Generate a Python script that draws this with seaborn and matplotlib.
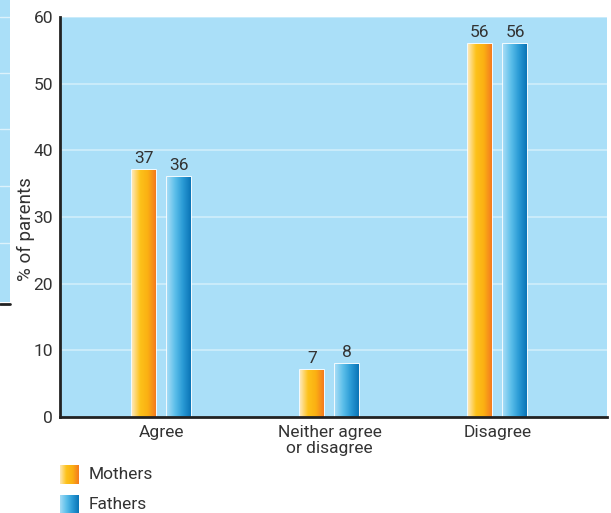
import numpy as np
import pandas as pd
import matplotlib
matplotlib.use("Agg")
import matplotlib.pyplot as plt
import seaborn as sns
from matplotlib.colors import LinearSegmentedColormap

categories = ["Agree", "Neither agree\nor disagree", "Disagree"]
groups = ["Mothers", "Fathers"]
mothers = [37, 7, 56]
fathers = [36, 8, 56]
yticks = [0, 10, 20, 30, 40, 50, 60]

df = pd.DataFrame({
    "category": categories * 2,
    "group": [groups[0]] * 3 + [groups[1]] * 3,
    "value": mothers + fathers,
})

sns.set_theme(style="white")
plt.rcParams['font.family'] = ['Roboto', 'DejaVu Sans']

W, H = 611, 513
FS = 12.5
TXT = "#333333"
fig = plt.figure(figsize=(W / 100, H / 100), dpi=100)
BG = "#aadff8"

# partial neighbouring panel at far left
ax0 = fig.add_axes([0, 1 - 302 / H, 10 / W, 302 / H])
ax0.set_facecolor(BG)
ax0.set_ylim(0, 302)
for yy in [302 - 17, 302 - 73, 302 - 129, 302 - 186, 302 - 243]:
    ax0.axhline(yy, color="white", lw=1, alpha=0.6)
ax0.set_xticks([]); ax0.set_yticks([])
for s in ax0.spines.values():
    s.set_visible(False)
fig.add_artist(plt.Line2D([0, 10 / W], [1 - 304 / H, 1 - 304 / H], color="#222222", lw=2))

left, right, top, bottom = 60, 607, 17, 417
ax = fig.add_axes([left / W, 1 - bottom / H, (right - left) / W, (bottom - top) / H])
ax.set_facecolor(BG)

sns.barplot(data=df, x="category", y="value", hue="group", ax=ax,
            width=0.42, gap=0.32, palette=["#fdc010", "#3aaee3"],
            edgecolor="white", linewidth=1.2, legend=False, zorder=3)

ax.set_ylim(0, 60)
ax.set_xlim(-0.604, 2.652)
ax.set_yticks(yticks)
ax.set_yticklabels([str(t) for t in yticks], fontsize=FS, color=TXT)
ax.tick_params(axis="both", length=0, pad=5)
ax.tick_params(axis="x", labelsize=FS, labelcolor=TXT, pad=6)
for t in ax.get_xticklabels():
    t.set_linespacing(1.05)
ax.set_xlabel("")
ax.set_ylabel("% of parents", fontsize=13.5, color=TXT)
ax.yaxis.set_label_coords(-0.046, 0.47)
for yv in yticks[1:]:
    ax.axhline(yv, color="white", lw=1.2, alpha=0.45, zorder=1)
for s in ["top", "right"]:
    ax.spines[s].set_visible(False)
for s in ["left", "bottom"]:
    ax.spines[s].set_color("#222222")
    ax.spines[s].set_linewidth(2)
    ax.spines[s].set_zorder(5)

cmap_m = LinearSegmentedColormap.from_list("m", ["#fee8b8", "#fdc21a", "#fbb012", "#f47a20"])
cmap_f = LinearSegmentedColormap.from_list("f", ["#a6dcf6", "#5cbfea", "#2a9ad5", "#0a74b6"])
grad = np.linspace(0, 1, 128).reshape(1, -1)

patches = [p for p in ax.patches if p.get_height() > 0]
for i, p in enumerate(patches):
    cmap = cmap_m if i < 3 else cmap_f
    x0, y0, w, h = p.get_x(), p.get_y(), p.get_width(), p.get_height()
    im = ax.imshow(grad, cmap=cmap, aspect="auto", extent=[x0, x0 + w, y0, y0 + h],
                   zorder=3.5, interpolation="bicubic")
    im.set_clip_path(p)
    ax.text(x0 + w / 2, h + 0.6, f"{int(h)}", ha="center", va="bottom",
            fontsize=FS, color=TXT, zorder=6)
ax.set_xlim(-0.604, 2.652)
ax.set_ylim(0, 60)

# legend with gradient swatches
for j, (name, cmap) in enumerate([("Mothers", cmap_m), ("Fathers", cmap_f)]):
    yt = 465 + j * 30
    lax = fig.add_axes([60 / W, 1 - (yt + 19) / H, 19 / W, 19 / H])
    lax.imshow(grad, cmap=cmap, aspect="auto", interpolation="bicubic")
    lax.set_xticks([]); lax.set_yticks([])
    for s in lax.spines.values():
        s.set_visible(False)
    fig.text(89 / W, 1 - (yt + 9.5) / H, name, fontsize=FS, color=TXT, va="center")

fig.savefig("out.png", dpi=100)
